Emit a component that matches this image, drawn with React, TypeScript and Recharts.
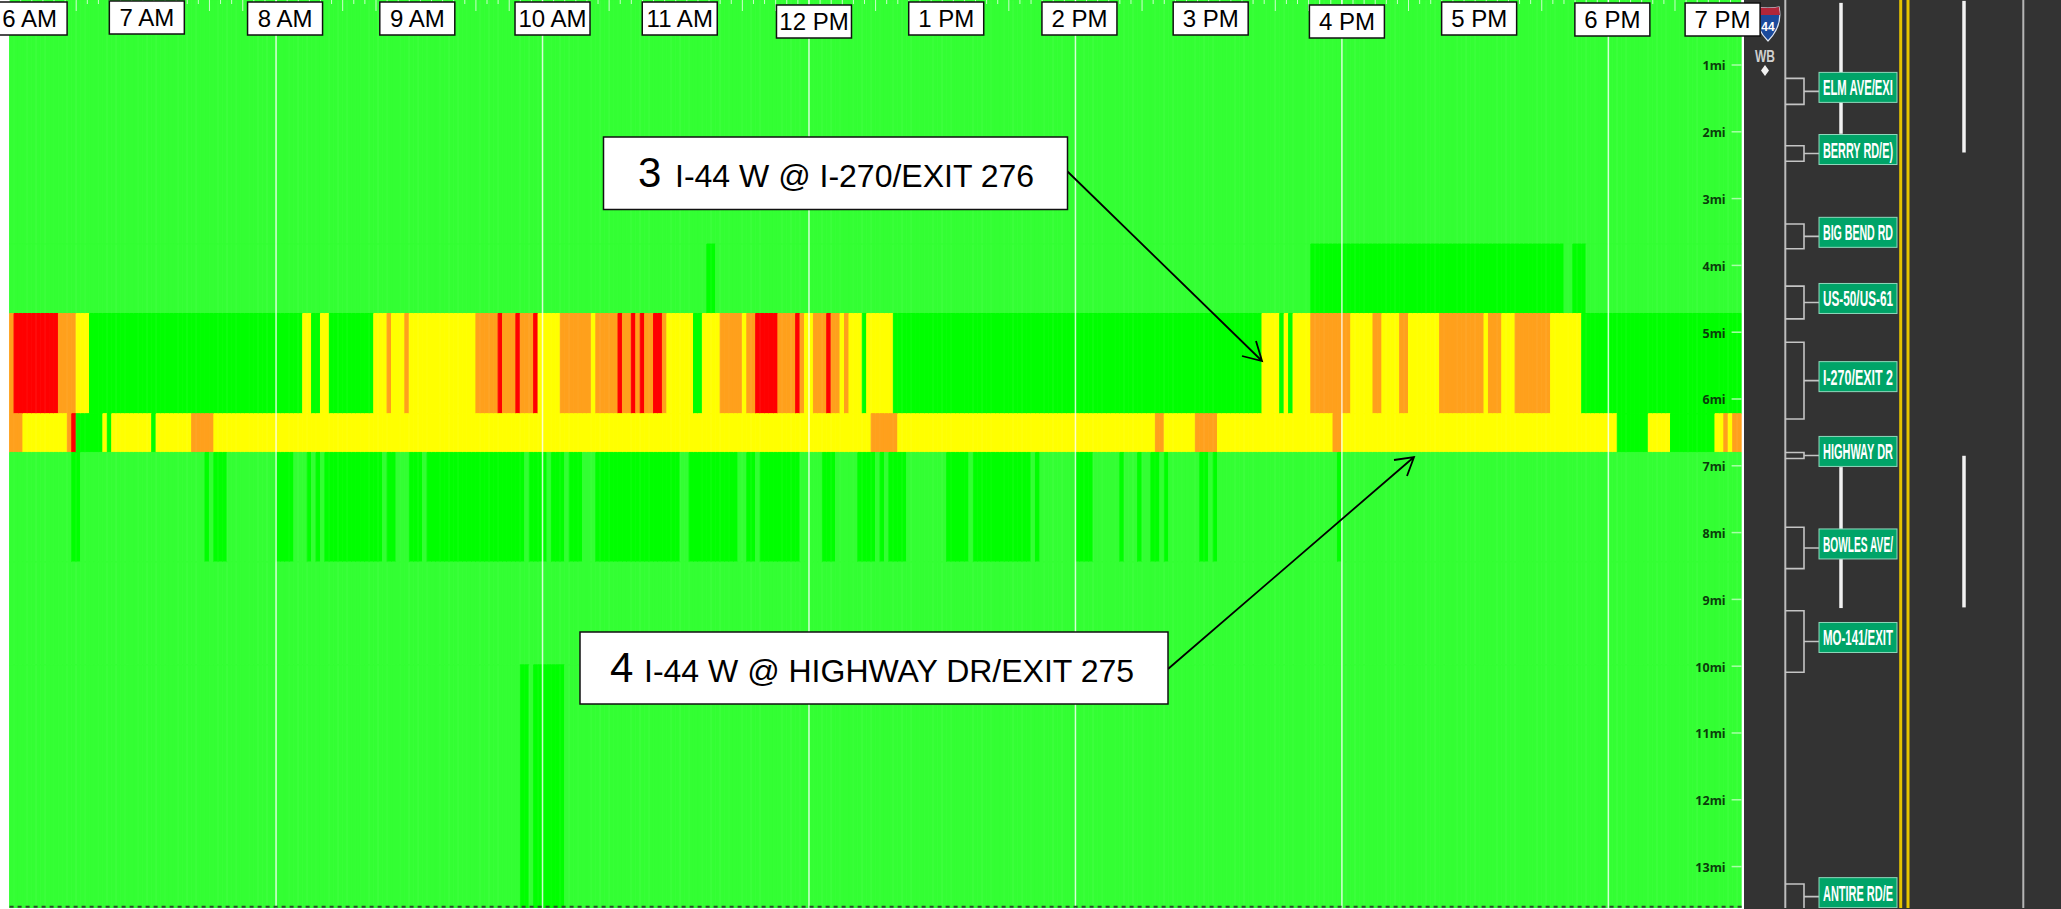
import React from 'react';
import { ComposedChart, ScatterChart, Bar, Scatter, Cell, XAxis, YAxis, ReferenceLine } from 'recharts';

type Level = 'L' | 'G' | 'Y' | 'O' | 'R';
type Run = [number, Level];

const LEVEL_COLORS: Record<Level, string> = {
  L: '#33ff33',
  G: '#00ff00',
  Y: '#ffff00',
  O: '#ffa01c',
  R: '#ff0000',
};

// one column every 2 minutes, 6 AM to 7 PM
const BIN_COUNT = 390;

// where each horizontal band of road starts and ends, in miles
const bandEdges = [0, 3.68, 4.72, 6.22, 6.8, 8.44, 9.98, 13.62];

// congestion per band: [first 2-minute column, level], the level holds until the next entry
const clearRuns: Run[] = [[0, 'L']];
const upperRuns: Run[] = [[0, 'L'], [157, 'G'], [159, 'L'], [293, 'G'], [350, 'L'], [352, 'G'], [355, 'L']];
const exit276Runs: Run[] = [
  [0, 'O'], [1, 'R'], [11, 'O'], [15, 'Y'], [18, 'G'], [66, 'Y'], [68, 'G'], [70, 'Y'], [72, 'G'], [82, 'Y'],
  [85, 'O'], [86, 'Y'], [89, 'O'], [90, 'Y'], [105, 'O'], [110, 'R'], [111, 'O'], [114, 'R'], [115, 'O'], [118, 'R'],
  [119, 'Y'], [124, 'O'], [131, 'Y'], [132, 'O'], [137, 'R'], [138, 'O'], [140, 'R'], [141, 'O'], [142, 'R'], [143, 'O'],
  [145, 'R'], [147, 'O'], [148, 'Y'], [154, 'G'], [156, 'Y'], [160, 'O'], [165, 'Y'], [166, 'O'], [168, 'R'], [173, 'O'],
  [177, 'R'], [178, 'O'], [179, 'Y'], [181, 'O'], [184, 'R'], [185, 'O'], [187, 'Y'], [188, 'O'], [189, 'Y'], [192, 'G'],
  [193, 'Y'], [199, 'G'], [282, 'Y'], [286, 'G'], [287, 'Y'], [288, 'G'], [289, 'Y'], [293, 'O'], [302, 'Y'], [307, 'O'],
  [309, 'Y'], [313, 'O'], [315, 'Y'], [322, 'O'], [332, 'Y'], [333, 'O'], [336, 'Y'], [339, 'O'], [347, 'Y'], [354, 'G'],
];
const exit275Runs: Run[] = [
  [0, 'O'], [3, 'Y'], [13, 'O'], [14, 'R'], [15, 'G'], [21, 'Y'], [22, 'G'], [23, 'Y'], [32, 'G'], [33, 'Y'],
  [41, 'O'], [46, 'Y'], [194, 'O'], [200, 'Y'], [258, 'O'], [260, 'Y'], [267, 'O'], [272, 'Y'], [298, 'O'], [300, 'Y'],
  [362, 'G'], [369, 'Y'], [374, 'G'], [384, 'Y'], [386, 'O'], [387, 'Y'], [388, 'O'],
];
const lowerRuns: Run[] = [
  [0, 'L'], [14, 'G'], [16, 'L'], [44, 'G'], [45, 'L'], [46, 'G'], [49, 'L'], [60, 'G'], [64, 'L'], [67, 'G'],
  [68, 'L'], [69, 'G'], [70, 'L'], [71, 'G'], [84, 'L'], [85, 'G'], [87, 'L'], [90, 'G'], [93, 'L'], [94, 'G'],
  [116, 'L'], [117, 'G'], [121, 'L'], [122, 'G'], [125, 'L'], [126, 'G'], [129, 'L'], [132, 'G'], [151, 'L'], [153, 'G'],
  [164, 'L'], [166, 'G'], [168, 'L'], [169, 'G'], [178, 'L'], [183, 'G'], [186, 'L'], [191, 'G'], [195, 'L'], [196, 'G'],
  [197, 'L'], [198, 'G'], [202, 'L'], [211, 'G'], [216, 'L'], [217, 'G'], [230, 'L'], [231, 'G'], [232, 'L'], [240, 'G'],
  [244, 'L'], [250, 'G'], [251, 'L'], [254, 'G'], [255, 'L'], [257, 'G'], [259, 'L'], [260, 'G'], [261, 'L'], [268, 'G'],
  [270, 'L'], [271, 'G'], [272, 'L'], [299, 'G'], [300, 'L'],
];
const bottomRuns: Run[] = [[0, 'L'], [115, 'G'], [117, 'L'], [118, 'G'], [125, 'L']];

const bandRuns: Run[][] = [clearRuns, upperRuns, exit276Runs, exit275Runs, lowerRuns, clearRuns, bottomRuns];

const hourTicks = [6, 7, 8, 9, 10, 11, 12, 13, 14, 15, 16, 17, 18, 19];
const hourLabels = ['6 AM', '7 AM', '8 AM', '9 AM', '10 AM', '11 AM', '12 PM', '1 PM', '2 PM', '3 PM', '4 PM', '5 PM', '6 PM', '7 PM'];
const gridHours = [8, 10, 12, 14, 16, 18];
const mileTicks = [1, 2, 3, 4, 5, 6, 7, 8, 9, 10, 11, 12, 13];

// the time boxes were pasted on by hand in the source picture, so they don't sit on the hour
const labelNudgeX = [20, 4, 9, 8, 10, 4, 5, 4, 4, 2, 5, 4, 4, -19];
const labelTop = [2, 1, 2, 2, 2, 2, 5, 2, 2, 2, 5, 2, 3, 3];

const exits = [
  { sign: 'ELM AVE/EXI', from: 1.2, to: 1.59 },
  { sign: 'BERRY RD/E)', from: 2.21, to: 2.44 },
  { sign: 'BIG BEND RD', from: 3.38, to: 3.75 },
  { sign: 'US-50/US-61', from: 4.31, to: 4.8 },
  { sign: 'I-270/EXIT 2', from: 5.15, to: 6.3 },
  { sign: 'HIGHWAY DR', from: 6.8, to: 6.89 },
  { sign: 'BOWLES AVE/', from: 7.92, to: 8.54 },
  { sign: 'MO-141/EXIT', from: 9.17, to: 10.09 },
  { sign: 'ANTIRE RD/E', from: 13.26, to: 13.64 },
];

const laneDashes = [
  { lane: 97, from: 0.07, to: 2.03 },
  { lane: 97, from: 7.02, to: 9.13 },
  { lane: 220, from: 0.04, to: 2.31 },
  { lane: 220, from: 6.85, to: 9.12 },
];

const WIDTH = 2061;
const HEIGHT = 909;
const PLOT_LEFT = 9.6;
const PLOT_RIGHT = 1741.6;
const MILE_DOMAIN: [number, number] = [0.027, 13.62];
const PX_PER_MILE = 66.8;
const PANEL_LEFT = 1744;
const PANEL_WIDTH = WIDTH - PANEL_LEFT;
const SIGN_COLUMN = 114;
const FONT = '"Liberation Sans", Arial, sans-serif';

const thickness = (band: number) => Math.round((bandEdges[band + 1] - bandEdges[band]) * 100) / 100;

const expandRuns = (runs: Run[]): Level[] => {
  const out: Level[] = [];
  runs.forEach(([start, level], i) => {
    const end = i + 1 < runs.length ? runs[i + 1][0] : BIN_COUNT;
    for (let b = start; b < end; b++) out[b] = level;
  });
  return out;
};

const bandLevels = bandRuns.map(expandRuns);

const rows = Array.from({ length: BIN_COUNT }, (_, bin) => {
  const row: Record<string, number> = { bin, minute: bin * 2, hour: 6 + bin / 30 };
  bandLevels.forEach((_, band) => {
    row[`band${band}`] = thickness(band);
  });
  return row;
});

const minuteTicks = Array.from({ length: 157 }, (_, i) => i * 5);

const exitPoints = exits.map((e) => ({ ...e, x: SIGN_COLUMN, y: (e.from + e.to) / 2 }));

const HourBox = ({ x, index }: any) => {
  const left = x + labelNudgeX[index] - 37.5;
  const top = labelTop[index];
  return (
    <g>
      <rect x={left} y={top} width={75} height={33} fill="#fff" stroke="#111" strokeWidth={1.5} />
      <text x={left + 37.5} y={top + 25} textAnchor="middle" fontFamily={FONT} fontSize={24} fill="#000">
        {hourLabels[index]}
      </text>
    </g>
  );
};

const MinuteTick = ({ x, payload }: any) => (
  <line x1={x} x2={x} y1={0} y2={payload.value % 15 === 0 ? 11 : 4} stroke="#fff" strokeOpacity={0.75} strokeWidth={1} />
);

const ExitSign = ({ cx, cy, payload }: any) => {
  const top = cy - (payload.y - payload.from) * PX_PER_MILE;
  const bottom = cy + (payload.to - payload.y) * PX_PER_MILE;
  const bracketLeft = cx - 73;
  const bracketRight = cx - 54;
  const signLeft = cx - 39;
  return (
    <g>
      <path
        d={`M${bracketLeft} ${top}H${bracketRight}V${bottom}H${bracketLeft}M${bracketRight} ${cy}H${signLeft}`}
        fill="none"
        stroke="#c4c4c4"
        strokeWidth={1.6}
      />
      <rect x={signLeft} y={cy - 19} width={78} height={30} fill="#00a468" stroke="#8fd8bc" strokeWidth={1} />
      <text
        x={signLeft + 4}
        y={cy + 4}
        fontFamily='"Liberation Sans Narrow", "Liberation Sans", sans-serif'
        fontWeight={700}
        fontSize={22}
        fill="#fff"
        textLength={70}
        lengthAdjust="spacingAndGlyphs"
      >
        {payload.sign}
      </text>
    </g>
  );
};

const RoadPanel = () => (
  <div style={{ position: 'absolute', left: PANEL_LEFT, top: 0, width: PANEL_WIDTH, height: HEIGHT, background: '#333' }}>
    <ScatterChart width={PANEL_WIDTH} height={HEIGHT} margin={{ top: 0, right: 0, bottom: 1, left: 0 }}>
      <XAxis type="number" dataKey="x" domain={[0, PANEL_WIDTH]} hide />
      <YAxis type="number" dataKey="y" domain={MILE_DOMAIN} reversed hide allowDataOverflow />
      <ReferenceLine x={41.3} stroke="#bdbdbd" strokeWidth={2} />
      <ReferenceLine x={156.7} stroke="#e6c400" strokeWidth={3} />
      <ReferenceLine x={164} stroke="#e6c400" strokeWidth={3} />
      <ReferenceLine x={279.3} stroke="#b5b5b5" strokeWidth={2} />
      {laneDashes.map((d, i) => (
        <ReferenceLine
          key={`dash-${i}`}
          segment={[{ x: d.lane, y: d.from }, { x: d.lane, y: d.to }]}
          stroke="#f2f2f2"
          strokeWidth={3.5}
        />
      ))}
      <Scatter data={exitPoints} isAnimationActive={false} shape={<ExitSign />} />
    </ScatterChart>
    <svg width={PANEL_WIDTH} height={90} style={{ position: 'absolute', left: 0, top: 0 }}>
      <path d="M13 7Q24 9 35 7Q39 26 24 41Q9 26 13 7Z" fill="#1b4a9c" stroke="#dfe6f2" strokeWidth={1.2} />
      <path d="M13 7Q24 9 35 7L36 15H12Z" fill="#b2263a" />
      <text x={24} y={31} textAnchor="middle" fontFamily={FONT} fontWeight={700} fontSize={12} fill="#fff">44</text>
      <text x={21} y={62} textAnchor="middle" fontFamily={FONT} fontWeight={700} fontSize={16} fill="#cfcfcf" textLength={20} lengthAdjust="spacingAndGlyphs">WB</text>
      <path d="M21 65L25 70.5L21 76L17 70.5Z" fill="#f2f2f2" />
    </svg>
  </div>
);

const Callouts = () => (
  <svg width={WIDTH} height={HEIGHT} style={{ position: 'absolute', left: 0, top: 0, pointerEvents: 'none' }}>
    <g fill="none" stroke="#000" strokeWidth={1.8}>
      <path d="M1067 171L1262 361M1256 341L1262 361L1242 356" />
      <path d="M1168 669L1414 457M1394 460L1414 457L1407 476" />
    </g>
    <rect x={603.5} y={137} width={464} height={72.5} fill="#fff" stroke="#111" strokeWidth={1.5} />
    <text x={638} y={186.5} fontFamily={FONT} fontSize={42} fill="#000">3</text>
    <text x={675} y={186.5} fontFamily={FONT} fontSize={32} fill="#000">I-44 W @ I-270/EXIT 276</text>
    <rect x={580} y={632} width={588} height={72} fill="#fff" stroke="#111" strokeWidth={1.5} />
    <text x={610} y={682} fontFamily={FONT} fontSize={42} fill="#000">4</text>
    <text x={644} y={682} fontFamily={FONT} fontSize={32} fill="#000">I-44 W @ HIGHWAY DR/EXIT 275</text>
  </svg>
);

export default function App() {
  return (
    <div style={{ position: 'absolute', left: 0, top: 0, width: WIDTH, height: HEIGHT, background: '#fff', overflow: 'hidden' }}>
      <RoadPanel />
      <div style={{ position: 'absolute', left: 0, top: 0 }}>
        <ComposedChart
          width={WIDTH}
          height={HEIGHT}
          data={rows}
          barCategoryGap={0}
          barGap={0}
          margin={{ top: -2, right: WIDTH - PLOT_RIGHT, bottom: 1, left: PLOT_LEFT }}
        >
          <XAxis xAxisId="bins" dataKey="bin" type="category" hide />
          <YAxis
            yAxisId="miles"
            orientation="right"
            type="number"
            mirror
            reversed
            allowDataOverflow
            domain={MILE_DOMAIN}
            ticks={mileTicks}
            interval={0}
            tickFormatter={(v: number) => `${v}mi`}
            tickSize={10}
            tickMargin={6}
            axisLine={false}
            tickLine={{ stroke: '#a8ffa8', strokeWidth: 1.5 }}
            tick={{ fill: '#0b3d0b', fontSize: 12.5, fontWeight: 700, fontFamily: '"Noto Sans", sans-serif', dy: 1 }}
            width={50}
          />
          {bandLevels.map((levels, band) => (
            <Bar
              key={band}
              xAxisId="bins"
              yAxisId="miles"
              dataKey={`band${band}`}
              stackId="road"
              barSize={6}
              isAnimationActive={false}
            >
              {/* stroke in the same colour closes the hairline gap between columns */}
              {levels.map((level, bin) => (
                <Cell key={bin} fill={LEVEL_COLORS[level]} stroke={LEVEL_COLORS[level]} strokeWidth={1} />
              ))}
            </Bar>
          ))}
          <XAxis
            xAxisId="minutes"
            dataKey="minute"
            orientation="top"
            type="number"
            domain={[0, 780]}
            ticks={minuteTicks}
            interval={0}
            height={1}
            axisLine={false}
            tickLine={false}
            tick={<MinuteTick />}
          />
          <XAxis
            xAxisId="hours"
            dataKey="hour"
            orientation="top"
            type="number"
            domain={[6, 19]}
            ticks={hourTicks}
            interval={0}
            height={1}
            axisLine={false}
            tickLine={false}
            tick={<HourBox />}
          />
          {gridHours.map((h) => (
            <ReferenceLine key={h} xAxisId="hours" yAxisId="miles" x={h} stroke="#fff" strokeOpacity={0.8} strokeWidth={1.5} />
          ))}
          <ReferenceLine xAxisId="hours" yAxisId="miles" y={13.6} stroke="#2e4a2e" strokeWidth={2} strokeDasharray="4 4" />
        </ComposedChart>
      </div>
      <Callouts />
    </div>
  );
}
